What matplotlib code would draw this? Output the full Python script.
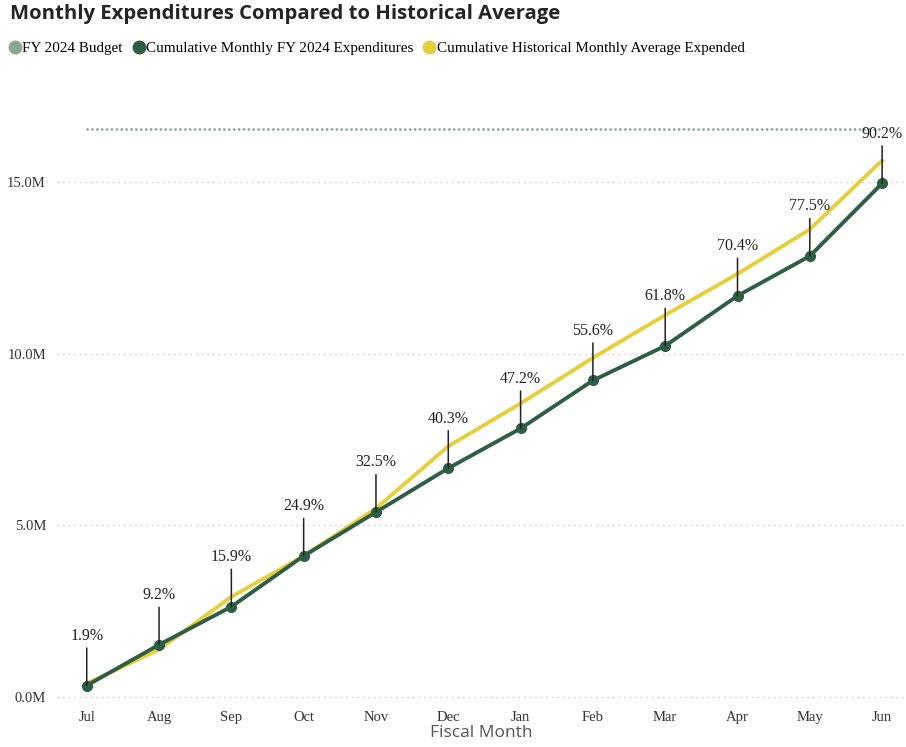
import matplotlib.pyplot as plt
from matplotlib.lines import Line2D
from matplotlib.ticker import FuncFormatter

# Data (values in millions)
months = ['Jul', 'Aug', 'Sep', 'Oct', 'Nov', 'Dec', 'Jan', 'Feb', 'Mar', 'Apr', 'May', 'Jun']
expenditures = [0.32, 1.51, 2.62, 4.10, 5.38, 6.66, 7.82, 9.22, 10.23, 11.69, 12.85, 14.97]
historical = [0.38, 1.37, 2.91, 4.10, 5.49, 7.30, 8.55, 9.88, 11.13, 12.33, 13.63, 15.64]
pct_labels = ['1.9%', '9.2%', '15.9%', '24.9%', '32.5%', '40.3%', '47.2%', '55.6%',
              '61.8%', '70.4%', '77.5%', '90.2%']
budget = 16.57

green = '#2E5E45'
yellow = '#E5CF3B'
budget_col = '#8BA596'
serif = 'Liberation Serif'

fig = plt.figure(figsize=(9.06, 7.47), dpi=100)
ax = fig.add_axes([0.063, 0.063, 0.937, 0.803])

x = list(range(len(months)))

# Budget line
ax.plot([x[0], x[-1]], [budget, budget], color=budget_col, lw=2.0,
        linestyle=(0, (0.01, 1.75)), dash_capstyle='round', zorder=2)

ax.plot(x, historical, color=yellow, lw=2.8, zorder=3)
ax.plot(x, expenditures, color=green, lw=2.8, marker='o', markersize=7, zorder=4)

# percent labels with leader lines
for xi, yi, lab in zip(x, expenditures, pct_labels):
    ax.annotate(lab, xy=(xi, yi), xytext=(0, 30), textcoords='offset points',
                ha='center', va='bottom', fontsize=11.5, family=serif, color='#222222',
                arrowprops=dict(arrowstyle='-', color='#222222', lw=1.1,
                                shrinkA=1, shrinkB=0), zorder=5)

ax.set_xlim(-0.41, 11.33)
ax.set_ylim(-0.1, 17.4)
ax.set_yticks([0, 5, 10, 15])
ax.yaxis.set_major_formatter(FuncFormatter(lambda v, p: f'{v:.1f}M'))
ax.set_xticks(x)
ax.set_xticklabels(months)
for lbl in ax.get_xticklabels() + ax.get_yticklabels():
    lbl.set_family(serif)
    lbl.set_fontsize(10.5)
    lbl.set_color('#333333')

ax.grid(axis='y', color='#c8c8c8', linestyle=(0, (1, 3)), lw=1)
ax.set_axisbelow(True)
ax.tick_params(length=0, pad=8)
for s in ax.spines.values():
    s.set_visible(False)

ax.set_xlabel('Fiscal Month', fontsize=12.5, color='#555555', family='Open Sans', labelpad=1)

fig.text(0.011, 0.981, 'Monthly Expenditures Compared to Historical Average',
         fontsize=14.6, fontweight='bold', family='Open Sans', color='#252423', va='center')

handles = [Line2D([], [], marker='o', linestyle='', color=c, markersize=9)
           for c in (budget_col, green, yellow)]
names = ['FY 2024 Budget', 'Cumulative Monthly FY 2024 Expenditures',
         'Cumulative Historical Monthly Average Expended']
fig.legend(handles, names, loc='center left', bbox_to_anchor=(0.008, 0.935), ncol=3,
           frameon=False, handletextpad=0.0, columnspacing=0.55, handlelength=1.0,
           prop={'family': serif, 'size': 10.9}, borderaxespad=0, borderpad=0)

fig.savefig('out.png', dpi=100)
